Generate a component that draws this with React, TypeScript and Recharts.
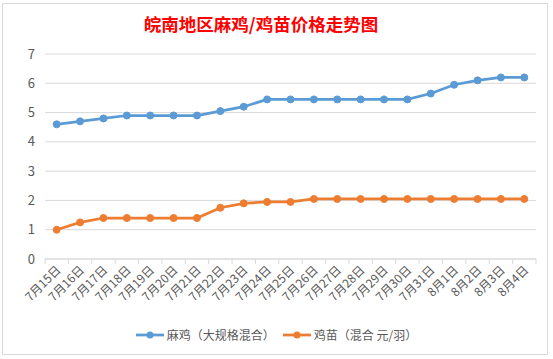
import { LineChart, Line, XAxis, YAxis, CartesianGrid } from 'recharts';

const categories = [
  '7月15日', '7月16日', '7月17日', '7月18日', '7月19日', '7月20日', '7月21日',
  '7月22日', '7月23日', '7月24日', '7月25日', '7月26日', '7月27日', '7月28日',
  '7月29日', '7月30日', '7月31日', '8月1日', '8月2日', '8月3日', '8月4日',
];

// 麻鸡（大规格混合）
const majiPrice = [
  4.6, 4.7, 4.8, 4.9, 4.9, 4.9, 4.9, 5.05, 5.2, 5.45, 5.45,
  5.45, 5.45, 5.45, 5.45, 5.45, 5.65, 5.95, 6.1, 6.2, 6.2,
];

// 鸡苗（混合 元/羽）
const jimiaoPrice = [
  1.0, 1.25, 1.4, 1.4, 1.4, 1.4, 1.4, 1.75, 1.9, 1.95, 1.95,
  2.05, 2.05, 2.05, 2.05, 2.05, 2.05, 2.05, 2.05, 2.05, 2.05,
];

const yTicks = [0, 1, 2, 3, 4, 5, 6, 7];

const seriesNames = ['麻鸡（大规格混合）', '鸡苗（混合 元/羽）'];
const BLUE = '#5B9BD5';
const ORANGE = '#ED7D31';

const W = 553;
const H = 359;
const LEFT = 45;
const RIGHT = 17;
const BAND = (W - LEFT - RIGHT) / categories.length;
const FONT = '"Noto Sans CJK SC", "Noto Sans", sans-serif';

const data = categories.map((day, i) => ({
  day,
  maji: majiPrice[i],
  jimiao: jimiaoPrice[i],
}));

function DayTick(props: any) {
  const { x, y, payload, index } = props;
  const axisY = y - 8;
  return (
    <g>
      <line x1={x - BAND / 2} x2={x - BAND / 2} y1={axisY} y2={axisY + 5} stroke="#D9D9D9" />
      {index === categories.length - 1 && (
        <line x1={x + BAND / 2} x2={x + BAND / 2} y1={axisY} y2={axisY + 5} stroke="#D9D9D9" />
      )}
      <text
        x={x + 2}
        y={y + 1}
        dy={4}
        textAnchor="end"
        transform={`rotate(-45, ${x + 2}, ${y + 1})`}
        fontSize={12}
        fill="#595959"
        fontFamily={FONT}
      >
        {payload.value}
      </text>
    </g>
  );
}

function LegendRow() {
  const items = [
    { name: seriesNames[0], color: BLUE },
    { name: seriesNames[1], color: ORANGE },
  ];
  return (
    <div style={{ display: 'flex', justifyContent: 'center', gap: 8, fontFamily: FONT, fontSize: 12, color: '#595959' }}>
      {items.map((it) => (
        <div key={it.name} style={{ display: 'flex', alignItems: 'center' }}>
          <svg width={28} height={10} style={{ marginRight: 3 }}>
            <line x1={0} x2={28} y1={5} y2={5} stroke={it.color} strokeWidth={2.75} />
            <circle cx={14} cy={5} r={3.5} fill={it.color} />
          </svg>
          <span>{it.name}</span>
        </div>
      ))}
    </div>
  );
}

export default function App() {
  return (
    <div style={{ position: 'relative', width: W, height: H, background: '#fff', fontFamily: FONT }}>
      <style>{'body{margin:0}'}</style>
      <div
        style={{
          position: 'absolute',
          left: 2,
          top: 3,
          width: 546,
          height: 352,
          border: '1px solid #D9D9D9',
          boxSizing: 'border-box',
        }}
      />
      <div
        style={{
          position: 'absolute',
          left: 0,
          width: 522,
          top: 12,
          textAlign: 'center',
          color: '#FF0000',
          fontSize: 17.5,
          fontWeight: 'bold',
          fontFamily: FONT,
          lineHeight: '24px',
        }}
      >
        皖南地区麻鸡/鸡苗价格走势图
      </div>
      <div style={{ position: 'absolute', left: 0, top: 0 }}>
        <LineChart width={W} height={H} data={data} margin={{ top: 54, right: RIGHT, left: 0, bottom: 40 }}>
          <CartesianGrid vertical={false} stroke="#D9D9D9" />
          <XAxis
            dataKey="day"
            interval={0}
            height={60}
            padding={{ left: BAND / 2, right: BAND / 2 }}
            tick={<DayTick />}
            tickLine={false}
            axisLine={{ stroke: '#D9D9D9' }}
          />
          <YAxis
            width={LEFT}
            domain={[0, 7]}
            ticks={yTicks}
            axisLine={false}
            tickLine={false}
            tickMargin={4}
            tick={{ fontSize: 13, fill: '#595959', fontFamily: FONT }}
          />
          <Line
            dataKey="maji"
            name={seriesNames[0]}
            stroke={BLUE}
            strokeWidth={2.75}
            dot={{ r: 3.5, fill: BLUE, stroke: BLUE, strokeWidth: 1 }}
            isAnimationActive={false}
          />
          <Line
            dataKey="jimiao"
            name={seriesNames[1]}
            stroke={ORANGE}
            strokeWidth={2.75}
            dot={{ r: 3.5, fill: ORANGE, stroke: ORANGE, strokeWidth: 1 }}
            isAnimationActive={false}
          />
        </LineChart>
      </div>
      <div style={{ position: 'absolute', left: 0, width: W, top: 326 }}>
        <LegendRow />
      </div>
    </div>
  );
}
